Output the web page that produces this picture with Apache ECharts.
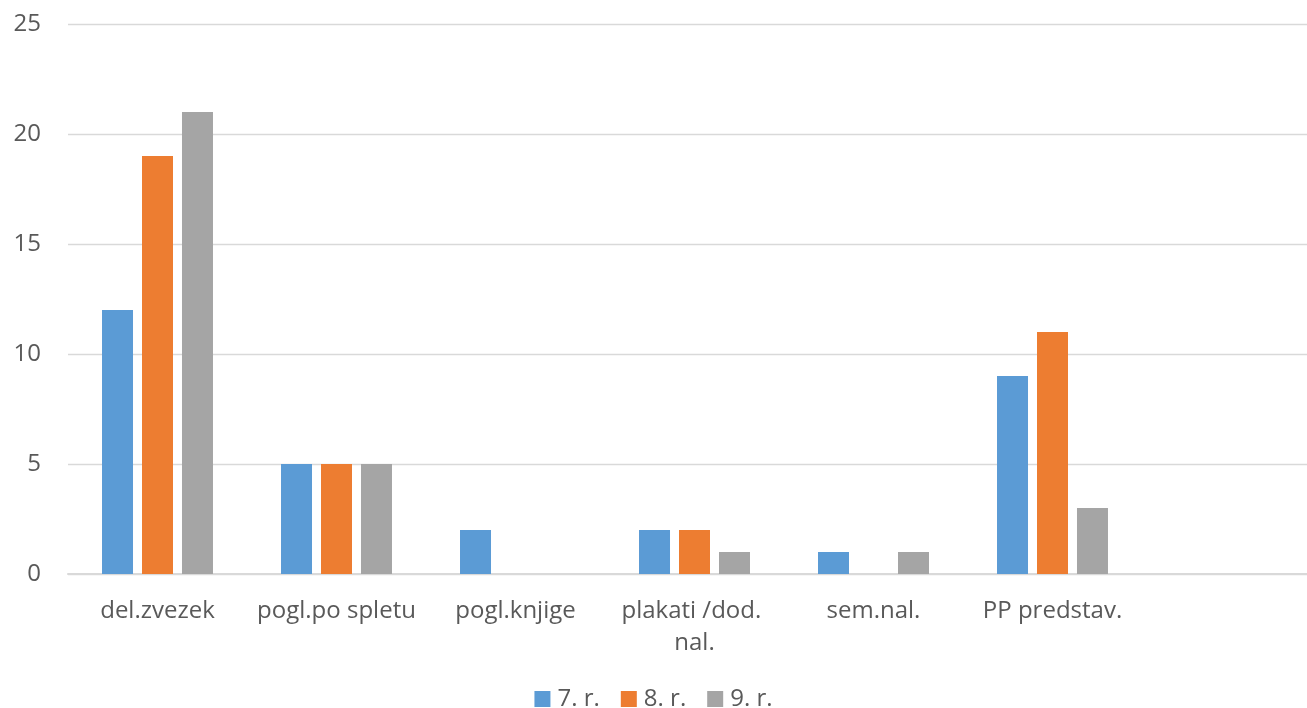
<!DOCTYPE html>
<html>
<head>
<meta charset="utf-8">
<script src="https://cdn.jsdelivr.net/npm/echarts@6/dist/echarts.min.js"></script>
<style>
html,body{margin:0;padding:0;background:#fff;}
#chart{width:1307px;height:708px;}
</style>
</head>
<body>
<div id="chart"></div>
<script>
const categories = ['del.zvezek', 'pogl.po spletu', 'pogl.knjige', 'plakati /dod. nal.', 'sem.nal.', 'PP predstav.', ''];
const seriesNames = ['7. r.', '8. r.', '9. r.'];
const values7 = [12, 5, 2, 2, 1, 9, null];
const values8 = [19, 5, 0, 2, 0, 11, null];
const values9 = [21, 5, 0, 1, 1, 3, null];
const colors = ['#5B9BD5', '#ED7D31', '#A5A5A5'];

const font = '"Open Sans", "Noto Sans", sans-serif';
const chart = echarts.init(document.getElementById('chart'));
const allValues = [values7, values8, values9];
chart.setOption({
  animation: false,
  textStyle: { fontFamily: font },
  grid: { left: 68, width: 1253, top: 24, height: 550, containLabel: false, outerBoundsMode: 'none' },
  legend: {
    top: 682, left: 'center',
    itemWidth: 16, itemHeight: 16, itemGap: 21,
    icon: 'rect',
    textStyle: { fontSize: 24, color: '#595959', fontFamily: font, padding: [0, 0, 0, 2] },
    data: seriesNames
  },
  xAxis: {
    type: 'category',
    data: categories,
    axisLine: { lineStyle: { color: '#D9D9D9', width: 2 } },
    axisTick: { show: false },
    axisLabel: {
      interval: 0, fontSize: 24, color: '#595959', fontFamily: font,
      margin: 21, lineHeight: 32, width: 172, overflow: 'break'
    }
  },
  yAxis: {
    type: 'value', min: 0, max: 25, interval: 5,
    axisLine: { show: false }, axisTick: { show: false },
    splitLine: { lineStyle: { color: '#D9D9D9', width: 1.3 } },
    axisLabel: { fontSize: 24, color: '#595959', fontFamily: font, margin: 27 }
  },
  series: seriesNames.map((n, i) => ({
    name: n, type: 'bar', data: allValues[i],
    barWidth: 31, barGap: '29%',
    itemStyle: { color: colors[i] }
  }))
});
</script>
</body>
</html>
